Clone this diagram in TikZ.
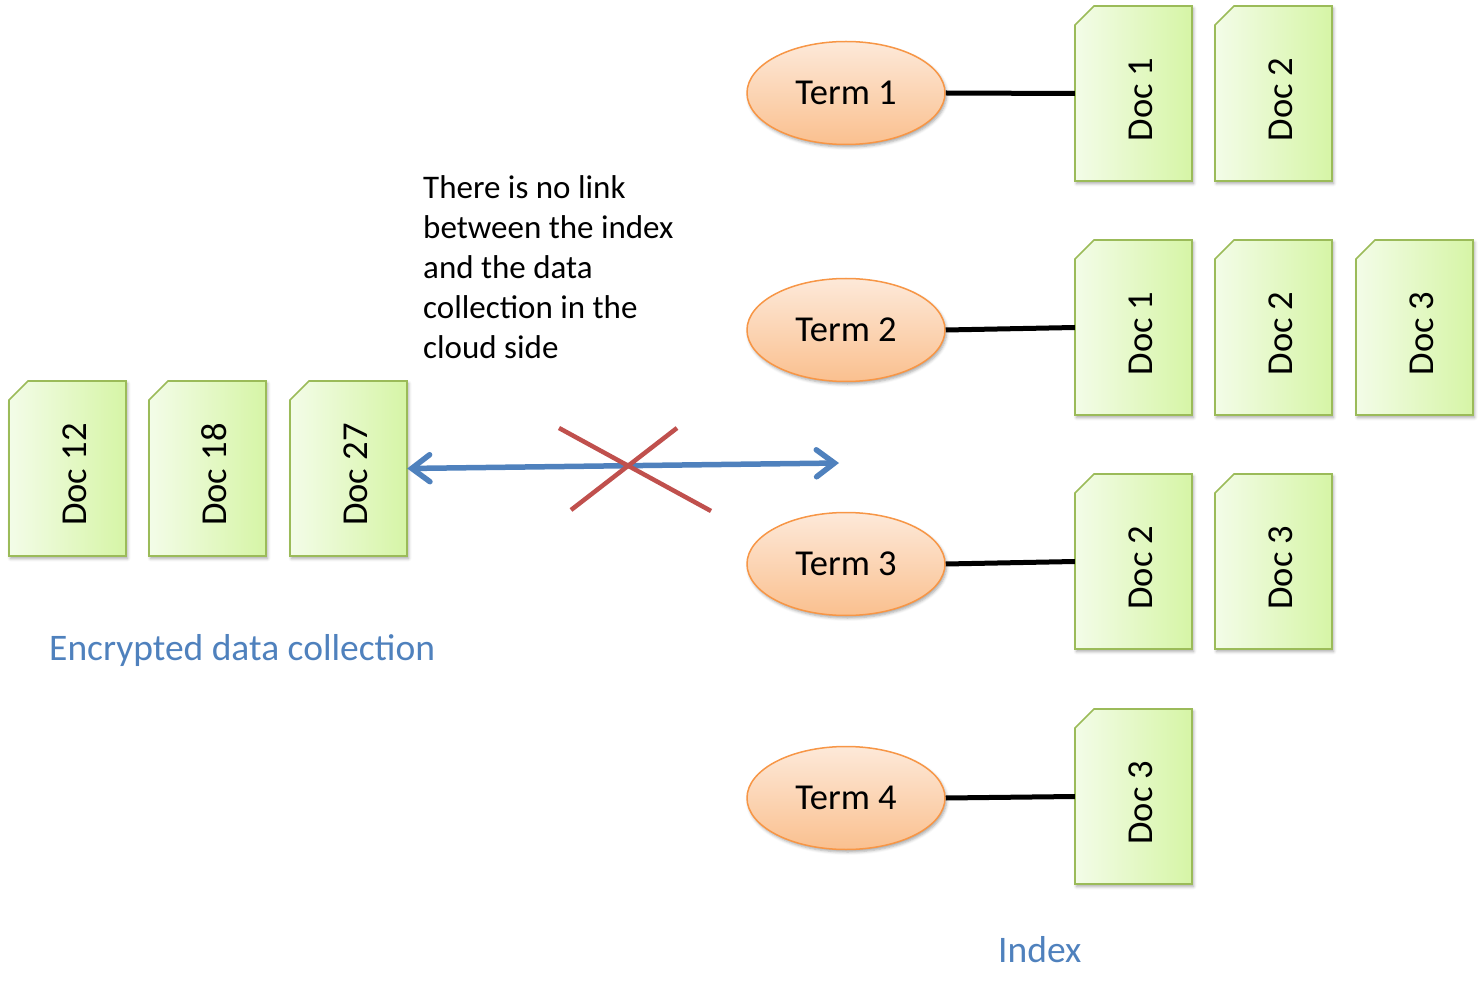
\documentclass[tikz,border=0pt]{standalone}
\usepackage{fontspec}
\setmainfont{Carlito}
\usetikzlibrary{shapes.geometric,arrows.meta,shadows.blur}
\definecolor{docborder}{HTML}{9BBB59}
\definecolor{docleft}{HTML}{F3FCE8}
\definecolor{docright}{HTML}{D6F5A6}
\definecolor{termborder}{HTML}{F79646}
\definecolor{termtop}{HTML}{FDE9D9}
\definecolor{termbottom}{HTML}{FAC08F}
\definecolor{arrowblue}{HTML}{4F81BD}
\definecolor{crossred}{HTML}{C0504D}
\newcommand\mydoc[4]{%
  \path[docshape] (#2,#3+19) -- (#2+19,#3) -- (#2+117,#3) -- (#2+117,#3+175) -- (#2,#3+175) -- cycle;
  \node[docnode] (#1) at (#2+58.5,#3+87.5) {\rotatebox{90}{\rule{0pt}{39pt}#4\hspace{12pt}}};
}
\tikzset{
  docshape/.style={draw=docborder, line width=1.6pt, left color=docleft, right color=docright,
    blur shadow={shadow xshift=1.5pt, shadow yshift=-2.5pt, shadow blur radius=3pt, shadow opacity=35}},
  docnode/.style={shape=rectangle, minimum width=117pt, minimum height=175pt, inner sep=0pt,
    font=\fontsize{36.5}{43}\selectfont},
  term/.style={ellipse, draw=termborder, line width=1.5pt, top color=termtop, bottom color=termbottom,
    minimum width=198pt, minimum height=103pt, inner sep=0pt, font=\fontsize{36.5}{43}\selectfont,
    blur shadow={shadow xshift=1.5pt, shadow yshift=-2.5pt, shadow blur radius=3pt, shadow opacity=35}},
  link/.style={line width=5pt, black},
  nolink/.style={line width=5.5pt, arrowblue, {Straight Barb[length=18pt,width=27pt,line cap=round]}-{Straight Barb[length=18pt,width=27pt,line cap=round]}},
  cross/.style={line width=4.5pt, crossred},
  caption/.style={text=arrowblue, font=\fontsize{37.5}{45}\selectfont, inner sep=0pt, anchor=base west},
  note/.style={font=\fontsize{33}{40}\selectfont, align=left, inner sep=0pt, anchor=north west}
}
\begin{document}
\begin{tikzpicture}[x=1pt,y=-1pt]
\useasboundingbox (0,0) rectangle (1483,981);
% index docs
\mydoc{aa}{1075}{6}{Doc 1}
\mydoc{ab}{1215}{6}{Doc 2}
\mydoc{ba}{1075}{240}{Doc 1}
\mydoc{bb}{1215}{240}{Doc 2}
\mydoc{bc}{1356}{240}{Doc 3}
\mydoc{ca}{1075}{474}{Doc 2}
\mydoc{cb}{1215}{474}{Doc 3}
\mydoc{da}{1075}{709}{Doc 3}
% collection docs
\mydoc{d12}{9}{381}{Doc 12}
\mydoc{d18}{149}{381}{Doc 18}
\mydoc{d27}{290}{381}{Doc 27}
% terms
\node[term] (t1) at (846,93) {Term 1};
\node[term] (t2) at (846,330) {Term 2};
\node[term] (t3) at (846,564) {Term 3};
\node[term] (t4) at (846,798) {Term 4};
\draw[link] (t1.east) -- (aa.west);
\draw[link] (t2.east) -- (ba.west);
\draw[link] (t3.east) -- (ca.west);
\draw[link] (t4.east) -- (da.west);
% arrow and cross
\coordinate (aend) at (839,463);
\draw[nolink] (d27.east) -- (aend);
\coordinate (c1a) at (559,428);
\coordinate (c1b) at (711,511);
\coordinate (c2a) at (677,428);
\coordinate (c2b) at (571,510);
\draw[cross] (c1a) -- (c1b);
\draw[cross] (c2a) -- (c2b);
% texts
\node[note] (note) at (423,175) {There is no link\\between the index\\and the data\\collection in the\\cloud side};
\node[caption] (enc) at (49,660) {Encrypted data collection};
\node[caption] (idx) at (998,962) {Index};
\end{tikzpicture}
\end{document}
